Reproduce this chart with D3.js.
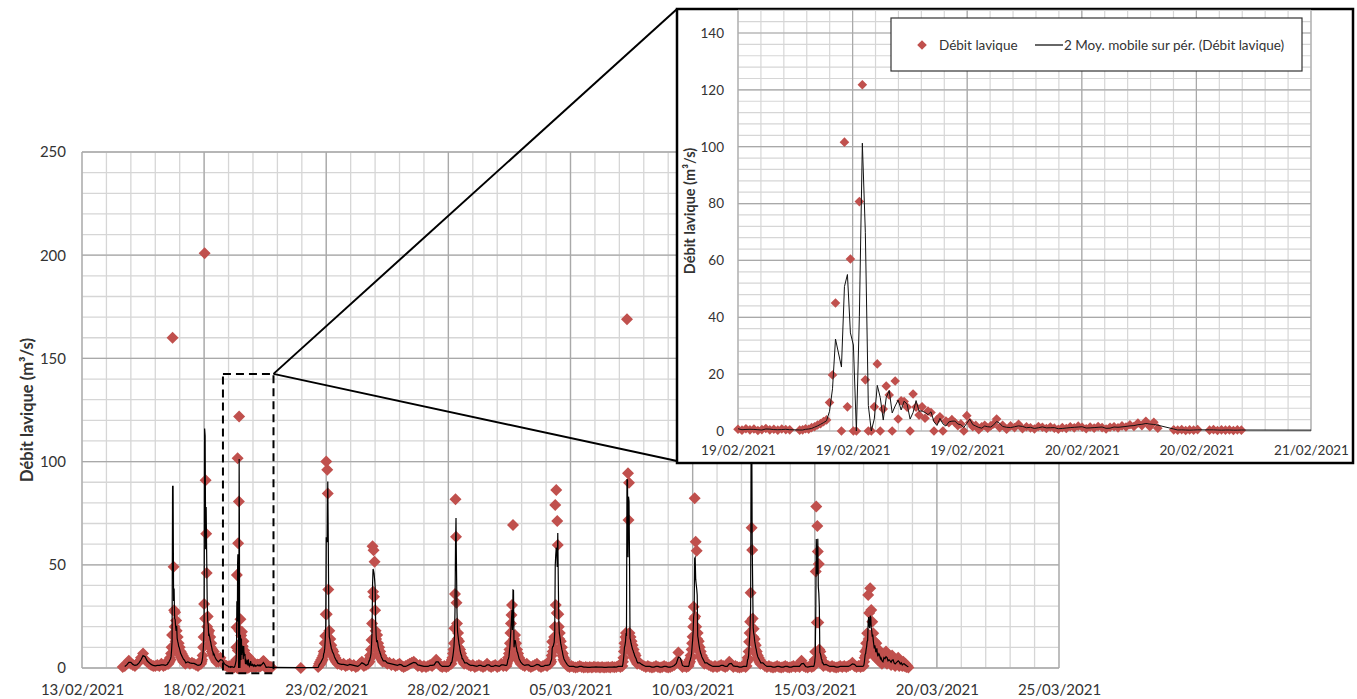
<!DOCTYPE html>
<html>
<head>
<meta charset="utf-8">
<script src="https://d3js.org/d3.v7.min.js"></script>
<style>
  body { margin: 0; background: #fff; }
  text { font-family: Lato, "Open Sans", sans-serif; fill: #333; }
</style>
</head>
<body>
<svg id="chart" width="1357" height="699"></svg>
<script>
// lava discharge readings (m3/s), in blocks: start, step (minutes), values
// null = missing reading
const base01 = [0.5, 1, 2, 3.5, 2, 1.5, 1, 2, 3, 5, 7, 4, 3, 2, 1.5, 1, 1, 1.5, 1, 2, 1, 1.5];
const crue01 = [2, 3, 2, 4, 3, 5, 4, 7, 10, 16, 160, 16, 49, 28, 20, 27, 13, 23, 18, 11, 15, 9, 12, 8, 10, 6, 8, 5, 7, 4, 6, 3, 5, 3, 4, 2, 3];
const base02 = [3, 2, 2.5, 2, 1.5, 1, 2];
const crue02 = [2, 3, 4, 6, 10, 15, 31, 201, 24, 91, 65, 46, 20, 25, 17, 14, 18, 12, 15, 10, 12, 8, 9, 7, 6, 8, 5, 6, 4, 5, 3];
const base03 = [3, 5, 2.5, 1.5, 1];
const zoomA = [0.6, 0.3, 0.8, 0.4, 0.7, 0.2, 0.5, 0.9, 0.4, 0.6, 0.3, 0.7, 0.5, 0.4];
const zoomB = [0.3, 0.4, 0.8, 0.6, 1.2, 1.5, 2.1, 2.6,
  3.3, 3.9, 10, 19.7, 45, null, 0, 101.6, 8.5, 60.5, 0, 0, 80.7, 121.8, 18, 0, 0, 8.5, 23.6, 0, 7.7, 15.8, 12.7, 0, 17.6, 4.2,
  10.6, 10.4, 8.4, 0, 13, 8.4, 5.6, 8.5, 4.5, 7, 6.5, 0, 3.9, 5, 0, 3.5, 2.9, 4, 3, 1.9, 2.5, 0, 5.4, 3, 1.5, 2, 0.5, 1.5, 2, 1, 1.8, 2.5, 4.2, 1.2, 2];
const zoomC = [0.6, 1.8, 1.2, 2.4, 0.8, 1.5, 1.1, 0.7, 1.6, 1.3, 0.9, 1.4, 1.0, 0.6, 1.2, 0.9, 1.5, 1.1, 1.7, 1.3,
  0.8, 1.4, 1.0, 1.6, 1.2, 0.7, 1.3, 1.5, 1.1, 1.8, 1.4, 2.2, 1.6, 2.8, 1.9, 3.4, 1.5, 3.1, 1.0, null, null, null,
  0.4, 0.3, 0.5, 0.2, 0.4, 0.3, 0.5, null, null, 0.3, 0.5, 0.2, 0.4, 0.3, 0.4, 0.2, 0.4, 0.3];
const isolated = [0];
const crue04 = [0.5, 1, 2, 1.5, 3, 2, 4, 3, 5, 4, 6, 8, 7, 12, 15.5, 26, 100, 26, 96, 84.6, 38, 12, 18, 10, 14, 8, 11, 7, 9, 6, 8, 5, 6, 4, 5, 3, 4, 3, 2];
const base04 = [2, 1.5, 2, 1, 1.5, 2, 1, 1.5, 0.5, 1, 2, 3, 1, 1.5];
const crue05 = [2, 3, 4, 3, 6, 5, 9, 13.6, 21.6, 59, 37, 57, 34.5, 51.5, 28, 18, 14, 11, 16, 9, 12, 7, 10, 6, 8, 5, 6, 4, 5, 3, 4];
const base05 = [3, 2, 2.5, 1.5, 2, 1, 1.5, 2, 1, 0.5, 1, 1.5, 2, 2.5, 3, 2, 1, 1.5, 0.5, 1, 0.5, 1, 1.5, 1, 2, 4, 2, 1, 0.5, 1, 0.5, 1];
const crue06 = [2, 3, 2, 4, 5, 7, 9, 12, 19.2, 35.8, 81.7, 63.6, 31.6, 21.6, 14, 17, 10, 13, 8, 9, 6, 7, 5, 4, 5, 3, 4, 2, 3];
const base06 = [2, 1.5, 1, 1.5, 0.5, 1, 1.5, 1, 0.5, 1, 2, 1, 0.5, 1, 1.5, 0.5, 1, 2, 1, 1.5];
const crue07 = [1, 2, 3, 5, 4, 7, 9, 12, 17, 21.6, 25.7, 30.5, 6.3, 69.3, 6, 14, 11, 16, 9, 12, 7, 9, 6, 7, 4, 5, 3, 4, 2];
const base07 = [1.5, 1, 2, 1, 0.5, 1, 1.5, 2, 1, 0.5, 1, 1.5, 1, 2];
const crue08 = [2, 4, 3, 6, 12.7, 8, 13, 10, 15, 20, 79, 30.5, 86.2, 26.6, 71.2, 59.6, 26, 20, 14, 17, 10, 13, 8, 10, 6, 7, 4, 5, 3, 4, 2];
const base08 = [1, 0.5, 1, 0.5, 0.3, 0.5, 1, 0.5, 0.3, 0.5, 0.2, 0.5, 0.3, 0.6, 0.4, 0.5, 0.3, 0.5, 0.2, 0.4, 0.5, 0.3, 0.6, 0.4, 0.5, 1, 0.5];
const crue09 = [1, 3, 5, 8, 12, 10, 15, 17, 14, 169, 13, 94.3, 71.7, 89.8, 17, 12, 15, 9, 13, 7, 11, 6, 9, 5, 7, 4, 6, 3, 4, 2, 3];
const base09 = [2, 1.5, 1, 0.5, 1, 0.5, 0.3, 0.5, 1, 0.5, 0.3, 0.5, 1, 0.5, 0.3, 0.5, 1, 1.5, 3, 7.5, 2, 0.5, 1, 0.5];
const crue10 = [1, 2, 4, 3, 6, 5, 9, 12, 15.2, 20, 29.7, 24, 82.2, 24.9, 61.2, 20, 56.8, 14, 17, 11, 13, 8, 10, 6, 8, 5, 6, 4, 5, 3, 4, 2, 3];
const base10 = [2, 1.5, 1, 0.5, 1, 0.5, 1, 1.5, 1, 0.5, 1, 3, 1.5, 0.5, 1, 0.5, 0.3, 0.5, 1, 0.5];
const crue11 = [1, 3, 5, 4, 8, 12.7, 17, 22.4, 36.5, 195, 68, 57.2, 24, 15, 19, 12, 14, 9, 11, 7, 8, 5, 6, 4, 5, 3, 4, 2, 3];
const base11 = [2, 1, 0.5, 1, 0.5, 0.3, 0.5, 1, 0.5, 0.3, 0.5, 1, 0.5, 0.3, 0.5, 1, 0.5, 1, 0.5, 3.5, 1, 0.5, 0.3, 1, 0.5];
const crue12 = [1, 2, 4, 7.9, 46.7, 78.2, 22, 68.8, 56.4, 22, 50.4, 9, 6, 8, 4, 5, 3, 2, 3, 1, 2];
const base12 = [1.5, 1, 0.5, 1, 0.5, 0.3, 0.5, 1, 0.5, 1, 0.5, 1, 1.5, 2.5, 1, 0.5, 1, 0.5, 1];
const crue13 = [1, 3, 5, 8, 6, 12, 9, 16.8, 10, 35.4, 14, 26.6, 12, 38.6, 11, 28.1, 8, 22.4, 10, 16.8, 6, 13, 9, 10.3, 5, 12, 7, 7.2, 4, 9, 5, 8, 3, 6, 4, 5, 2];
const tail13 = [4, 6, 3, 8, 2, 5, 3, 4, 1.5, 6, 2, 3, 1, 4, 2, 5, 1, 3, 2, 1, 3, 1, 2, 0.5, 1, 0.3];

const blocks = [
  ["2021-02-14 16:00", 120, base01], ["2021-02-16 12:00", 30, crue01],
  ["2021-02-17 08:00", 120, base02], ["2021-02-17 21:00", 30, crue02],
  ["2021-02-18 14:00", 120, base03], ["2021-02-19 00:00", 20, zoomA],
  ["2021-02-19 05:10", 15, zoomB], ["2021-02-19 22:30", 20, zoomC],
  ["2021-02-21 23:00", 60, isolated], ["2021-02-22 16:00", 30, crue04],
  ["2021-02-23 13:00", 120, base04], ["2021-02-24 17:00", 30, crue05],
  ["2021-02-25 10:00", 120, base05], ["2021-02-28 02:00", 30, crue06],
  ["2021-02-28 18:00", 120, base06], ["2021-03-02 09:00", 30, crue07],
  ["2021-03-03 01:00", 120, base07], ["2021-03-04 04:00", 30, crue08],
  ["2021-03-04 21:00", 120, base08], ["2021-03-07 03:00", 30, crue09],
  ["2021-03-07 20:00", 120, base09], ["2021-03-09 20:00", 30, crue10],
  ["2021-03-10 14:00", 120, base10], ["2021-03-12 05:00", 30, crue11],
  ["2021-03-12 21:00", 120, base11], ["2021-03-14 23:00", 30, crue12],
  ["2021-03-15 11:00", 120, base12], ["2021-03-17 00:00", 30, crue13],
  ["2021-03-17 19:00", 60, tail13]
];

const yTicksMain = [0, 50, 100, 150, 200, 250];
const yTicksInset = [0, 20, 40, 60, 80, 100, 120, 140];
const seriesName = "Débit lavique";
const trendName = "2 Moy. mobile sur pér. (Débit lavique)";
const yTitle = "Débit lavique (m³/s)";

const parse = d3.timeParse("%Y-%m-%d %H:%M");
const fmt = d3.timeFormat("%d/%m/%Y");
const DAY = 864e5;

let records = [];
blocks.forEach(([start, step, vals]) => {
  const t0 = parse(start);
  vals.forEach((v, i) => {
    if (v !== null) records.push({ t: new Date(+t0 + i * step * 60000), v: v });
  });
});
// 2-period moving average (Excel trendline)
const movingAvg = records.slice(1).map((d, i) => ({ t: d.t, v: (records[i].v + d.v) / 2 }));

const svg = d3.select("#chart");
const red = "#c0504d";
const minorCol = "#d6d6d6", majorCol = "#a9a9a9";
const diamond = r => `M0,${-r}L${r},0L0,${r}L${-r},0Z`;

function grid(g, xs, ys, xScale, yScale, xVals, yVals, col, w) {
  g.append("g").selectAll("line").data(xVals).join("line")
    .attr("x1", d => xScale(d)).attr("x2", d => xScale(d))
    .attr("y1", ys[0]).attr("y2", ys[1])
    .attr("stroke", col).attr("stroke-width", w);
  g.append("g").selectAll("line").data(yVals).join("line")
    .attr("x1", xs[0]).attr("x2", xs[1])
    .attr("y1", d => yScale(d)).attr("y2", d => yScale(d))
    .attr("stroke", col).attr("stroke-width", w);
}

// ---------- main chart ----------
const mainStart = parse("2021-02-13 00:00"), mainEnd = parse("2021-03-25 00:00");
const x = d3.scaleTime().domain([mainStart, mainEnd]).range([82, 1059]);
const y = d3.scaleLinear().domain([0, 250]).range([668, 152]);
const main = svg.append("g");

const days = d3.range(0, 41).map(k => d3.timeDay.offset(mainStart, k));
const majorDays = d3.range(0, 41, 5).map(k => d3.timeDay.offset(mainStart, k));
grid(main, x.range(), y.range(), x, y, days, d3.range(0, 251, 10), minorCol, 1.3);
grid(main, x.range(), y.range(), x, y, majorDays, d3.range(0, 251, 50), majorCol, 1.3);

const xAxis = main.append("g").attr("transform", `translate(0,${y(0)})`)
  .call(d3.axisBottom(x).tickValues(majorDays).tickFormat(fmt).tickSize(0).tickPadding(16))
  .attr("font-size", 15).attr("font-family", null);
xAxis.select(".domain").remove();

const yAxis = main.append("g").attr("transform", `translate(${x.range()[0]},0)`)
  .call(d3.axisLeft(y).tickValues(yTicksMain).tickSize(0).tickPadding(16))
  .attr("font-size", 15).attr("font-family", null);
yAxis.select(".domain").remove();

main.append("text")
  .attr("transform", `translate(27,${(y(0) + y(250)) / 2}) rotate(-90)`)
  .attr("text-anchor", "middle").attr("dy", "0.35em")
  .attr("font-size", 16.5).attr("font-weight", "bold")
  .text(yTitle);

main.append("g").selectAll("path").data(records).join("path")
  .attr("transform", d => `translate(${x(d.t)},${y(d.v)})`)
  .attr("d", diamond(6)).attr("fill", red);

main.append("path").datum(movingAvg)
  .attr("d", d3.line().x(d => x(d.t)).y(d => y(d.v)))
  .attr("fill", "none").attr("stroke", "#000").attr("stroke-width", 1.2);

// zoom frame on the main chart
const zoomFrom = parse("2021-02-18 18:30"), zoomTo = parse("2021-02-20 20:10");
const zoomTop = 142.5, zoomBottom = -2.5;
main.append("rect")
  .attr("x", x(zoomFrom)).attr("y", y(zoomTop))
  .attr("width", x(zoomTo) - x(zoomFrom)).attr("height", y(zoomBottom) - y(zoomTop))
  .attr("fill", "none").attr("stroke", "#000").attr("stroke-width", 2)
  .attr("stroke-dasharray", "8,5");

// ---------- inset ----------
const box = { x: 677, y: 9, w: 676, h: 454 };
[[box.x, box.y], [box.x, box.y + box.h - 2]].forEach(([bx, by]) => {
  svg.append("line")
    .attr("x1", x(zoomTo)).attr("y1", y(zoomTop)).attr("x2", bx).attr("y2", by)
    .attr("stroke", "#000").attr("stroke-width", 2);
});

const inset = svg.append("g");
inset.append("rect").attr("x", box.x).attr("y", box.y).attr("width", box.w).attr("height", box.h)
  .attr("fill", "#fff").attr("stroke", "#000").attr("stroke-width", 2.5);

const inStart = parse("2021-02-19 00:00"), inEnd = parse("2021-02-21 00:00");
const xi = d3.scaleTime().domain([inStart, inEnd]).range([738, 1311]);
const yi = d3.scaleLinear().domain([0, 140]).range([431, 33]);
const inTop = yi(148);

const minorT = d3.range(0, 26).map(k => new Date(+inStart + k * 0.08 * DAY));
const majorT = d3.range(0, 6).map(k => new Date(+inStart + k * 0.4 * DAY));
grid(inset, xi.range(), [yi(0), inTop], xi, yi, minorT, d3.range(0, 149, 4), minorCol, 1.2);
grid(inset, xi.range(), [yi(0), inTop], xi, yi, majorT, d3.range(0, 141, 20), majorCol, 1.2);

const xiAxis = inset.append("g").attr("transform", `translate(0,${yi(0)})`)
  .call(d3.axisBottom(xi).tickValues(majorT).tickFormat(fmt).tickSize(0).tickPadding(14))
  .attr("font-size", 13.5).attr("font-family", null);
xiAxis.select(".domain").remove();

const yiAxis = inset.append("g").attr("transform", `translate(${xi.range()[0]},0)`)
  .call(d3.axisLeft(yi).tickValues(yTicksInset).tickSize(0).tickPadding(14))
  .attr("font-size", 13.5).attr("font-family", null);
yiAxis.select(".domain").remove();

inset.append("text")
  .attr("transform", `translate(690,211) rotate(-90)`)
  .attr("text-anchor", "middle").attr("dy", "0.35em")
  .attr("font-size", 14.5).attr("font-weight", "bold")
  .text(yTitle);

svg.append("clipPath").attr("id", "inclip").append("rect")
  .attr("x", xi.range()[0]).attr("y", box.y).attr("width", xi.range()[1] - xi.range()[0]).attr("height", 440);

const inRecords = records.filter(d => d.t >= inStart && d.t <= inEnd);
inset.append("g").selectAll("path").data(inRecords).join("path")
  .attr("transform", d => `translate(${xi(d.t)},${yi(d.v)})`)
  .attr("d", diamond(4.8)).attr("fill", red);

inset.append("path").datum(movingAvg)
  .attr("clip-path", "url(#inclip)")
  .attr("d", d3.line().x(d => xi(d.t)).y(d => yi(d.v)))
  .attr("fill", "none").attr("stroke", "#111").attr("stroke-width", 1);

// legend
const lg = inset.append("g");
lg.append("rect").attr("x", 891).attr("y", 18).attr("width", 411).attr("height", 53)
  .attr("fill", "#fff").attr("stroke", "#333").attr("stroke-width", 1.2);
lg.append("path").attr("transform", "translate(922,45)").attr("d", diamond(4.8)).attr("fill", red);
lg.append("text").attr("x", 939).attr("y", 45).attr("dy", "0.35em").attr("font-size", 13.5).text(seriesName);
lg.append("line").attr("x1", 1035).attr("x2", 1063).attr("y1", 45).attr("y2", 45)
  .attr("stroke", "#000").attr("stroke-width", 1.2);
lg.append("text").attr("x", 1064).attr("y", 45).attr("dy", "0.35em").attr("font-size", 13.5).text(trendName);
</script>
</body>
</html>
